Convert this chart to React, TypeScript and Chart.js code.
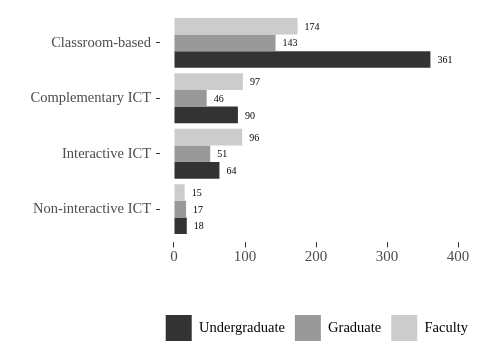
import React, { useEffect, useRef } from "react";
import { Chart, registerables } from "chart.js";

Chart.register(...registerables);

const categories = ["Classroom-based", "Complementary ICT", "Interactive ICT", "Non-interactive ICT"];
const seriesNames = ["Faculty", "Graduate", "Undergraduate"];
const faculty = [174, 97, 96, 15];
const graduate = [143, 46, 51, 17];
const undergraduate = [361, 90, 64, 18];
const xTickValues = [0, 100, 200, 300, 400];
const seriesColors = ["#cccccc", "#999999", "#333333"];

const FONT = "'Liberation Serif', 'Times New Roman', serif";

const valueLabels = {
  id: "valueLabels",
  afterDatasetsDraw(chart: any) {
    const ctx = chart.ctx;
    ctx.save();
    ctx.font = `10px ${FONT}`;
    ctx.fillStyle = "#000000";
    ctx.textAlign = "left";
    ctx.textBaseline = "middle";
    chart.data.datasets.forEach((ds: any, di: number) => {
      const meta = chart.getDatasetMeta(di);
      meta.data.forEach((el: any, i: number) => {
        const v = ds.data[i].x;
        ctx.fillText(String(v), el.x + 7, el.y + 1);
      });
    });
    ctx.restore();
  },
};

export default function App() {
  const ref = useRef<HTMLCanvasElement | null>(null);
  useEffect(() => {
    if (!ref.current) return;
    const seriesValues = [faculty, graduate, undergraduate];
    const chart = new Chart(ref.current, {
      type: "bar",
      data: {
        datasets: seriesNames.map((name, si) => ({
          label: name,
          data: seriesValues[si].map((v, i) => ({ x: v, y: i })),
          backgroundColor: seriesColors[si],
          borderWidth: 0,
          categoryPercentage: 0.9,
          barPercentage: 1,
        })),
      },
      options: {
        indexAxis: "y",
        animation: false,
        responsive: false,
        maintainAspectRatio: false,
        layout: { padding: { top: 8.6, right: 4, bottom: 10, left: 0 } },
        scales: {
          x: {
            type: "linear",
            min: -19.7,
            max: 428,
            offset: false,
            afterBuildTicks: (s: any) => {
              s.ticks = xTickValues.map((v) => ({ value: v }));
            },
            afterFit: (s: any) => {
              s.height = 62.6;
            },
            grid: { display: true, offset: false, drawOnChartArea: false, drawTicks: true, tickLength: 5, color: "#333333" },
            border: { display: false },
            ticks: { font: { family: FONT, size: 15 }, color: "#4d4d4d", padding: 1, autoSkip: false, maxRotation: 0 },
          },
          y: {
            type: "linear",
            reverse: true,
            min: -0.526,
            max: 3.6,
            offset: false,
            afterBuildTicks: (s: any) => {
              s.ticks = categories.map((_, i) => ({ value: i }));
            },
            afterFit: (s: any) => {
              s.width = 160;
            },
            grid: { display: true, offset: false, drawOnChartArea: false, drawTicks: true, tickLength: 4, color: "#333333" },
            border: { display: false },
            ticks: {
              font: { family: FONT, size: 14.5 },
              color: "#4d4d4d",
              padding: 5,
              autoSkip: false,
              callback: (v: any) => categories[v as number] ?? "",
            },
          },
        },
        plugins: {
          legend: {
            position: "bottom",
            align: "end",
            fullSize: true,
            labels: {
              boxWidth: 26,
              boxHeight: 26,
              padding: 10,
              color: "#000000",
              font: { family: FONT, size: 14.5 },
              sort: (a: any, b: any) => b.datasetIndex - a.datasetIndex,
            },
          },
          tooltip: { enabled: false },
        },
      },
      plugins: [valueLabels],
    } as any);
    return () => chart.destroy();
  }, []);
  return (
    <div style={{ position: "absolute", left: 0, top: 0, width: 482, height: 361, background: "#fff" }}>
      <canvas ref={ref} width={482} height={361} />
    </div>
  );
}
